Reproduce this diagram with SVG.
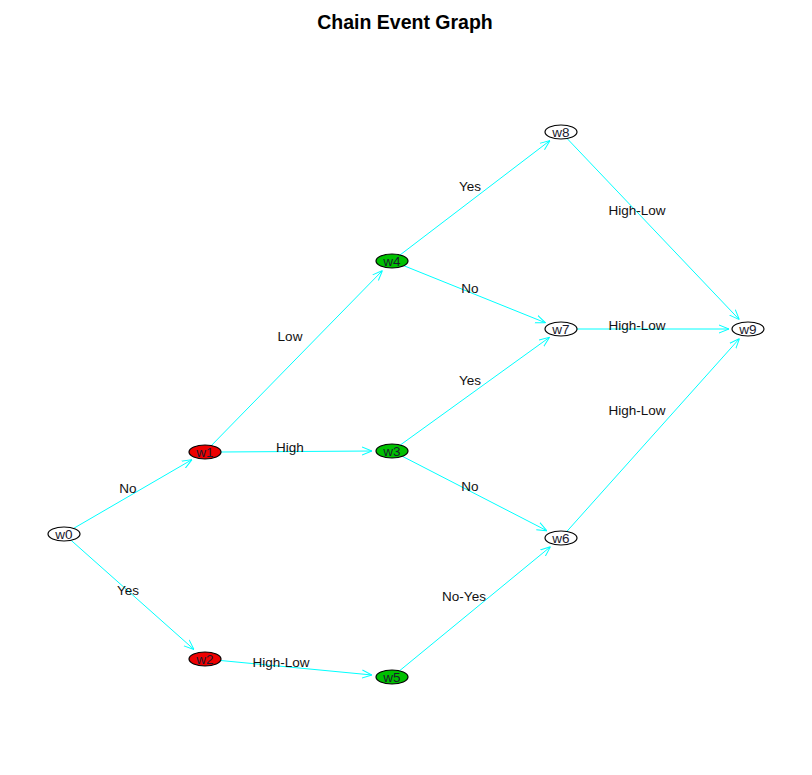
<svg xmlns="http://www.w3.org/2000/svg" width="812" height="775" viewBox="0 0 812 775">
<style>
.edge{stroke:#00FFFF;stroke-width:1;fill:none;marker-end:url(#arr)}
.node{stroke:#000;stroke-width:1.2}
.nl{font-family:"Liberation Sans",Arial,sans-serif;font-size:13.5px;fill:#1a1a2e;text-anchor:middle}
.el{font-family:"Liberation Sans",Arial,sans-serif;font-size:13.5px;fill:#111;text-anchor:middle}
.title{font-family:"Liberation Sans",Arial,sans-serif;font-size:19.5px;font-weight:bold;fill:#000;text-anchor:middle}
</style>
<defs>
<marker id="arr" viewBox="0 0 10 10" refX="10" refY="5" markerWidth="10" markerHeight="10" markerUnits="userSpaceOnUse" orient="auto">
<path d="M0,1 L10,5 L0,9" fill="none" stroke="#00FFFF" stroke-width="1"/>
</marker>
</defs>
<rect width="812" height="775" fill="#fff"/>
<text class="title" x="405" y="29">Chain Event Graph</text>
<g id="edges">
<line class="edge" x1="73.6" y1="528.4" x2="192" y2="459.6"/>
<line class="edge" x1="71.1" y1="540.3" x2="194" y2="649.5"/>
<line class="edge" x1="211.3" y1="445.6" x2="382.5" y2="270.5"/>
<line class="edge" x1="221" y1="452" x2="372" y2="451"/>
<line class="edge" x1="220.6" y1="660.5" x2="372" y2="675"/>
<line class="edge" x1="400" y1="255" x2="550" y2="140.5"/>
<line class="edge" x1="403.8" y1="265.7" x2="545.5" y2="322.8"/>
<line class="edge" x1="400.3" y1="445" x2="549.5" y2="337.3"/>
<line class="edge" x1="402.4" y1="456.3" x2="547" y2="530.8"/>
<line class="edge" x1="399.5" y1="670.8" x2="550.5" y2="546.7"/>
<line class="edge" x1="567.1" y1="138.5" x2="739.3" y2="319.6"/>
<line class="edge" x1="577" y1="329" x2="729" y2="329"/>
<line class="edge" x1="566.8" y1="531.5" x2="739.5" y2="338.5"/>
</g>
<g id="edge-labels">
<text class="el" x="128" y="493">No</text>
<text class="el" x="128" y="595">Yes</text>
<text class="el" x="290" y="341">Low</text>
<text class="el" x="290" y="452">High</text>
<text class="el" x="281" y="667">High-Low</text>
<text class="el" x="470" y="191">Yes</text>
<text class="el" x="470" y="293">No</text>
<text class="el" x="470" y="385">Yes</text>
<text class="el" x="470" y="491">No</text>
<text class="el" x="464" y="601">No-Yes</text>
<text class="el" x="637" y="215">High-Low</text>
<text class="el" x="637" y="330">High-Low</text>
<text class="el" x="637" y="415">High-Low</text>
</g>
<g id="w0"><ellipse class="node" cx="64" cy="534" rx="16" ry="7" fill="#fff"/><text class="nl" x="64" y="539">w0</text></g>
<g id="w1"><ellipse class="node" cx="205" cy="452" rx="16" ry="7" fill="#EE0000"/><text class="nl" x="205" y="457">w1</text></g>
<g id="w2"><ellipse class="node" cx="205" cy="659" rx="16" ry="7" fill="#EE0000"/><text class="nl" x="205" y="664">w2</text></g>
<g id="w3"><ellipse class="node" cx="392" cy="451" rx="16" ry="7" fill="#00C000"/><text class="nl" x="392" y="456">w3</text></g>
<g id="w4"><ellipse class="node" cx="392" cy="261" rx="16" ry="7" fill="#00C000"/><text class="nl" x="392" y="266">w4</text></g>
<g id="w5"><ellipse class="node" cx="392" cy="677" rx="16" ry="7" fill="#00C000"/><text class="nl" x="392" y="682">w5</text></g>
<g id="w6"><ellipse class="node" cx="561" cy="538" rx="16" ry="7" fill="#fff"/><text class="nl" x="561" y="543">w6</text></g>
<g id="w7"><ellipse class="node" cx="561" cy="329" rx="16" ry="7" fill="#fff"/><text class="nl" x="561" y="334">w7</text></g>
<g id="w8"><ellipse class="node" cx="561" cy="132" rx="16" ry="7" fill="#fff"/><text class="nl" x="561" y="137">w8</text></g>
<g id="w9"><ellipse class="node" cx="748" cy="329" rx="16" ry="7" fill="#fff"/><text class="nl" x="748" y="334">w9</text></g>
</svg>
